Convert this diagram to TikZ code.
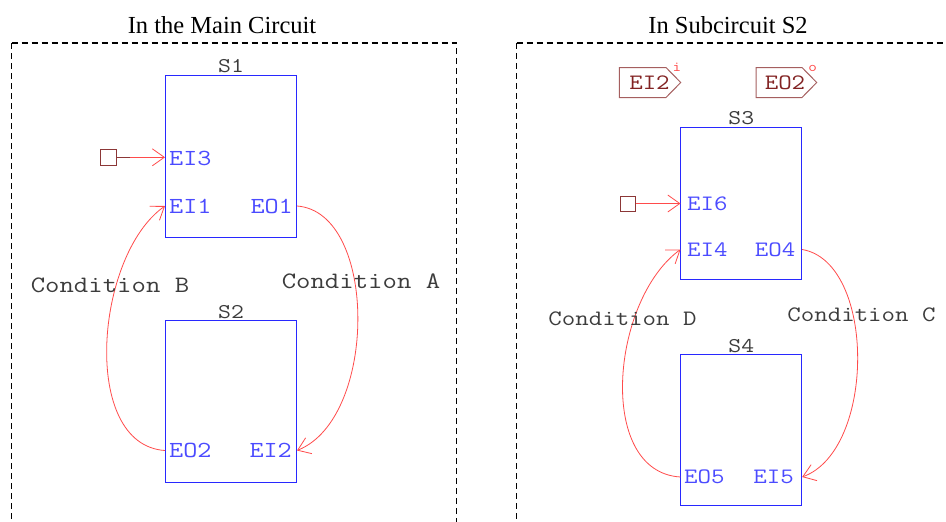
\documentclass[tikz,border=0pt]{standalone}
\usepackage{fontspec}
\setmainfont{Liberation Serif}
\newfontfamily\typewide[FakeStretch=1.19]{Latin Modern Mono}
\usetikzlibrary{arrows.meta}

\definecolor{boxblue}{RGB}{40,40,255}
\definecolor{portblue}{RGB}{75,75,255}
\definecolor{wirered}{RGB}{255,75,75}
\definecolor{pinbrown}{RGB}{140,55,55}
\definecolor{tagedge}{RGB}{165,95,95}
\definecolor{tagtext}{RGB}{130,35,35}
\definecolor{labgray}{RGB}{60,60,60}

\tikzset{
  frame/.style={draw=black, line width=1.5pt, dash pattern=on 6pt off 4pt},
  title/.style={font=\rmfamily\fontsize{24.5}{28}\selectfont, inner sep=0pt},
  blk/.style={draw=boxblue, line width=1pt, inner sep=0pt},
  blkname/.style={text=labgray, font=\typewide\fontsize{21}{21}\selectfont, inner sep=1.5pt, anchor=south},
  portL/.style={text=portblue, font=\typewide\fontsize{23}{23}\selectfont, inner sep=0pt},
  portR/.style={text=portblue, font=\typewide\fontsize{22}{22}\selectfont, inner sep=0pt},
  condL/.style={text=labgray, font=\typewide\fontsize{23.5}{24}\selectfont, inner sep=0pt},
  condR/.style={text=labgray, font=\typewide\fontsize{22}{22}\selectfont, inner sep=0pt},
  pin/.style={draw=pinbrown, line width=1pt, inner sep=0pt},
  conn/.style={draw=wirered, line width=0.8pt, -{Straight Barb[length=12pt,width=17pt]}},
  tagshape/.style={draw=tagedge, line width=1pt},
  tagname/.style={text=tagtext, font=\typewide\fontsize{22}{22}\selectfont, inner sep=0pt},
  tagmark/.style={text=wirered, font=\typewide\fontsize{14}{14}\selectfont, inner sep=0pt},
}

\begin{document}
\begin{tikzpicture}[x=1pt,y=-1pt]
\clip (0,0) rectangle (946,522);

% ---------- main circuit ----------
\node[title] (t1) at (222,25) {In the Main Circuit};
\draw[frame] (11.7,43) -- (456.7,43) -- (456.7,540) (11.7,43) -- (11.7,540);

\node[blk, minimum width=131pt, minimum height=162.5pt] (s1) at (231,156.5) {};
\node[blk, minimum width=131pt, minimum height=162.5pt] (s2) at (231,401.7) {};
\node[blkname] (s1n) at (s1.north) {S1};
\node[blkname] (s2n) at (s2.north) {S2};

\node[portL, anchor=west] (ei3) at (169,158) {EI3};
\node[portL, anchor=west] (ei1) at (169,206) {EI1};
\node[portL, anchor=east] (eo1) at (293,206) {EO1};
\node[portL, anchor=west] (eo2) at (169,450.5) {EO2};
\node[portL, anchor=east] (ei2) at (292,450.5) {EI2};

\node[pin, minimum size=16pt] (pin1) at (108.5,157.3) {};
\draw[conn] (pin1.east) -- (s1.west |- pin1.east);
\draw[pinbrown, line width=1pt] (pin1.east) -- ++(13,0);

\draw[conn] (s2.west |- eo2.west) .. controls (80,445) and (95,255) .. (s1.west |- ei1.west);
\draw[conn] (s1.east |- eo1.east) .. controls (378,212) and (378,418) .. (s2.east |- ei2.east);

\node[condL] (cb) at (110,285) {Condition B};
\node[condL] (ca) at (361,281) {Condition A};

% ---------- subcircuit S2 ----------
\node[title] (t2) at (728,25) {In Subcircuit S2};
\draw[frame] (516.7,43) -- (960,43) (516.7,43) -- (516.7,540);

\node[tagname] (tg1) at (649.5,83) {EI2};
\draw[tagshape] (619.3,67.5) -- (666,67.5) -- (680.7,82.5) -- (666,97.5) -- (619.3,97.5) -- cycle;
\node[tagmark] (tg1m) at (677,67) {i};
\node[tagname] (tg2) at (785,83) {EO2};
\draw[tagshape] (756,67.5) -- (802,67.5) -- (816.7,82.5) -- (802,97.5) -- (756,97.5) -- cycle;
\node[tagmark] (tg2m) at (812.7,68) {o};

\node[blk, minimum width=120.7pt, minimum height=152.3pt] (s3) at (741.3,203.2) {};
\node[blk, minimum width=120.7pt, minimum height=150.7pt] (s4) at (741.3,430.3) {};
\node[blkname] (s3n) at (s3.north) {S3};
\node[blkname] (s4n) at (s4.north) {S4};

\node[portR, anchor=west] (ei6) at (687,204) {EI6};
\node[portR, anchor=west] (ei4) at (687,249.5) {EI4};
\node[portR, anchor=east] (eo4) at (795.5,249.5) {EO4};
\node[portR, anchor=west] (eo5) at (684,477) {EO5};
\node[portR, anchor=east] (ei5) at (794,477) {EI5};

\node[pin, minimum size=15pt] (pin2) at (627.5,203.5) {};
\draw[conn] (pin2.east) -- (s3.west |- pin2.east);

\draw[conn] (s4.west |- eo5.west) .. controls (596,472) and (611,300) .. (s3.west |- ei4.west);
\draw[conn] (s3.east |- eo4.east) .. controls (876,262) and (876,450) .. (s4.east |- ei5.east);

\node[condR] (cd) at (622.5,319) {Condition D};
\node[condR] (cc) at (861.5,315) {Condition C};
\end{tikzpicture}
\end{document}
